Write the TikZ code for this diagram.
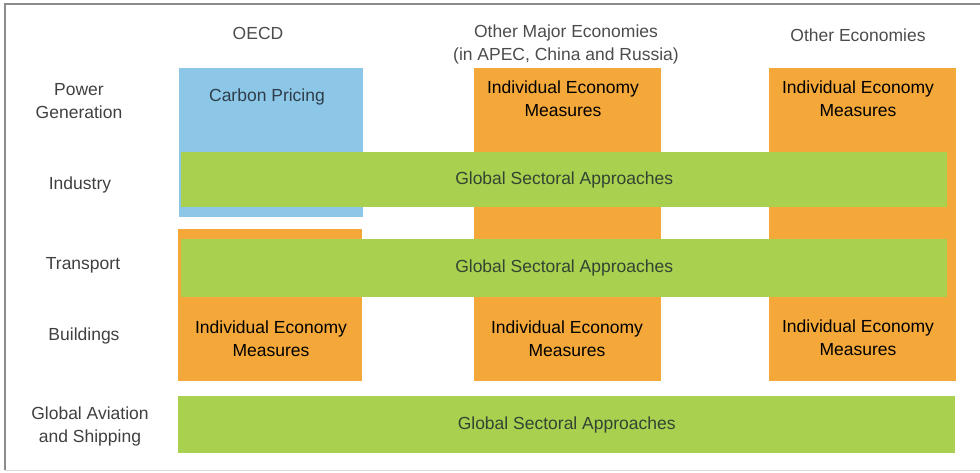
\documentclass[tikz,border=0pt]{standalone}
\usepackage{fontspec}
\setmainfont{Liberation Sans}
\usetikzlibrary{positioning}
\definecolor{cpblue}{HTML}{8DC7E7}
\definecolor{iemorange}{HTML}{F4A83A}
\definecolor{gsagreen}{HTML}{A9D04F}
\definecolor{gsatext}{HTML}{334433}
\definecolor{cptext}{HTML}{2E3E4A}
\definecolor{framegray}{HTML}{8C8C8C}
\tikzset{%
  block/.style={%
    rectangle,%
    inner sep=0pt,%
    anchor=north west},
  cpbox/.style={block, fill=cpblue},
  iembox/.style={block, fill=iemorange},
  gsabox/.style={%
    block,%
    fill=gsagreen,%
    text=gsatext,%
    font=\fontsize{17.5}{23}\selectfont},
  boxtext/.style={%
    align=center,%
    inner sep=0pt,%
    font=\fontsize{17.5}{23}\selectfont},
  sector/.style={boxtext, text=black!75},
  colhead/.style={boxtext, text=black!70}
}

\begin{document}
\begin{tikzpicture}[x=1pt, y=-1pt]
  \useasboundingbox (0,0) rectangle (980,472);
  % frame
  \draw[framegray, line width=2.5pt] (980,4) -- (5,4) -- (5,470);
  \draw[black!15, line width=1pt] (5,470) -- (980,470);

  % column heads
  \node [colhead] (oecd) at (258,33) {OECD};
  \node [colhead] (major) at (566,44.5) {Other Major Economies\\(in APEC, China and Russia)};
  \node [colhead] (other) at (858,35) {Other Economies};

  % sectors
  \node [sector] (power) at (79,101.5) {Power\\Generation};
  \node [sector] (industry) at (80,185) {Industry};
  \node [sector] (transport) at (83,265) {Transport};
  \node [sector] (buildings) at (84,336) {Buildings};
  \node [sector] (aviation) at (90,426) {Global Aviation\\and Shipping};

  % columns
  \node [cpbox, minimum width=184pt, minimum height=149pt] (oecdtop) at (179,68) {};
  \node [iembox, minimum width=184pt, minimum height=152pt] (oecdlow) at (178,229) {};
  \node [iembox, minimum width=187pt, minimum height=313pt] (majorcol) at (474,68) {};
  \node [iembox, minimum width=187pt, minimum height=313pt] (othercol) at (769,68) {};

  \node [boxtext, text=cptext] (cp) at (267,97) {Carbon Pricing};
  \node [boxtext] (majortop) at (563,98.5) {Individual Economy\\Measures};
  \node [boxtext] (othertop) at (858,98.5) {Individual Economy\\Measures};
  \node [boxtext] (oecdbot) at (271,338.5) {Individual Economy\\Measures};
  \node [boxtext] (majorbot) at (567,338.5) {Individual Economy\\Measures};
  \node [boxtext] (otherbot) at (858,337.5) {Individual Economy\\Measures};

  % sectoral bands
  \node [gsabox, minimum width=766pt, minimum height=55pt] (gsaind) at (181,152) {Global Sectoral Approaches};
  \node [gsabox, minimum width=766pt, minimum height=58pt] (gsatra) at (181,239) {Global Sectoral Approaches};
  \node [gsabox, minimum width=777pt, minimum height=57pt] (gsaavi) at (178,396) {Global Sectoral Approaches};
\end{tikzpicture}
\end{document}
